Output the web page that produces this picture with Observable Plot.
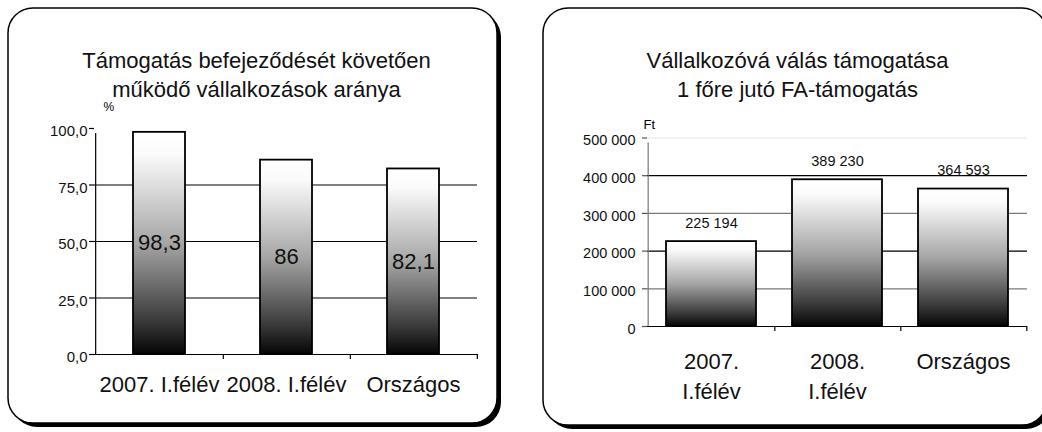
<!DOCTYPE html>
<html><head><meta charset="utf-8">
<script src="https://cdn.jsdelivr.net/npm/d3@7"></script>
<script src="https://cdn.jsdelivr.net/npm/@observablehq/plot@0.6"></script>
<style>
html,body{margin:0;padding:0;background:#fff;}
#wrap{position:relative;width:1042px;height:432px;overflow:hidden;font-family:"Liberation Sans",Arial,sans-serif;}
#wrap > svg{position:absolute;top:0;}
</style></head><body><div id="wrap"></div>
<script>
// ---- Chart 1 data ----
const categories1 = ["2007. I.félév", "2008. I.félév", "Országos"];
const values1 = [98.3, 86, 82.1];
const yTicks1 = [0, 25, 50, 75, 100];
const grid1 = [25, 50, 75];
const title1 = ["Támogatás befejeződését követően", "működő vállalkozások aránya"];
const unit1 = "%";

// ---- Chart 2 data ----
const categories2 = ["2007.\nI.félév", "2008.\nI.félév", "Országos"];
const values2 = [225194, 389230, 364593];
const yTicks2 = [0, 100000, 200000, 300000, 400000, 500000];
const grid2 = [100000, 200000, 300000, 400000, 500000];
const title2 = ["Vállalkozóvá válás támogatása", "1 főre jutó FA-támogatás"];
const unit2 = "Ft";

const data1 = categories1.map((c, i) => ({cat: c, value: values1[i]}));
const data2 = categories2.map((c, i) => ({cat: c, value: values2[i]}));

const FONT = "Liberation Sans, Arial, sans-serif";
const wrap = document.getElementById("wrap");

// ---- backdrop: panels, gradient, titles ----
const bg = d3.create("svg").attr("width", 1042).attr("height", 432).style("left", "0px");
const grad = bg.append("defs").append("linearGradient")
  .attr("id", "barGrad").attr("x1", 0).attr("y1", 0).attr("x2", 0).attr("y2", 1);
[[0, "#ffffff"], [0.1, "#fbfbfb"], [0.5, "#a6a6a6"], [0.85, "#3a3a3a"], [1, "#050505"]]
  .forEach(([o, c]) => grad.append("stop").attr("offset", o).attr("stop-color", c));
const panels = [
  {x: 8, y: 8, w: 489, h: 415, cx: 256.5, title: title1},
  {x: 543, y: 8, w: 504, h: 417, cx: 797.5, title: title2}
];
panels.forEach(p => {
  bg.append("rect").attr("x", p.x + 4).attr("y", p.y + 4).attr("width", p.w).attr("height", p.h)
    .attr("rx", 25).attr("fill", "#000");
  bg.append("rect").attr("x", p.x).attr("y", p.y).attr("width", p.w).attr("height", p.h)
    .attr("rx", 25).attr("fill", "#fff").attr("stroke", "#000").attr("stroke-width", 1.5);
  p.title.forEach((t, i) => bg.append("text").attr("x", p.cx).attr("y", 68 + i * 29)
    .attr("text-anchor", "middle").attr("font-family", FONT).attr("font-size", 22).attr("fill", "#111").text(t));
});
wrap.appendChild(bg.node());

const style = {background: "transparent", fontFamily: FONT, overflow: "visible", color: "#000"};
const fmt1 = d => d3.format(".1f")(d).replace(".", ",");
const fmt2 = d => d3.format(",")(d).replace(/,/g, " ");
const noText = () => "";

// ---- Chart 1 ----
const W1 = 520, ML1 = 94, MR1 = 43;
const step1 = (W1 - ML1 - MR1) / categories1.length;
const plot1 = Plot.plot({
  width: W1, height: 432,
  marginLeft: ML1, marginRight: MR1, marginTop: 128, marginBottom: 78,
  style,
  x: {domain: categories1, paddingInner: 0.593, paddingOuter: 0.2965},
  y: {domain: [0, 100]},
  marks: [
    Plot.ruleY(grid1, {stroke: "#000", strokeWidth: 1.2}),
    Plot.barY(data1, {x: "cat", y: "value", fill: "url(#barGrad)", stroke: "#000", strokeWidth: 1.8}),
    Plot.text(data1, {x: "cat", y: d => d.value / 2, text: d => String(d.value).replace(".", ","), fontSize: 22, fill: "#111"}),
    Plot.ruleY([0], {stroke: "#000", strokeWidth: 1.2}),
    Plot.ruleX(data1, {x: "cat", y1: 0, y2: 0, dx: step1 / 2, insetBottom: -5, strokeWidth: 1.2}),
    Plot.ruleX([categories1[0]], {x: d => d, y1: 0, y2: 100, dx: -step1 / 2, insetBottom: -5, strokeWidth: 1.2}),
    Plot.axisY({ticks: yTicks1, tickSize: 5, tickFormat: noText, label: null, strokeWidth: 1.2}),
    Plot.axisY({ticks: yTicks1, tickSize: 0, tickPadding: 7, tickFormat: fmt1, fontSize: 15, dy: 3, label: null, fill: "#111"}),
    Plot.axisX({tickSize: 0, tickPadding: 22, fontSize: 22, label: null, fill: "#111"}),
    Plot.text([unit1], {frameAnchor: "top-left", dx: 9, dy: -18, textAnchor: "start", lineAnchor: "bottom", fontSize: 12})
  ]
});
plot1.style.left = "0px";
wrap.appendChild(plot1);

// ---- Chart 2 ----
const W2 = 522, ML2 = 127, MR2 = 15;
const step2 = (W2 - ML2 - MR2) / categories2.length;
const plot2 = Plot.plot({
  width: W2, height: 432,
  marginLeft: ML2, marginRight: MR2, marginTop: 137.5, marginBottom: 106,
  style,
  x: {domain: categories2, paddingInner: 0.282, paddingOuter: 0.141},
  y: {domain: [0, 500000]},
  marks: [
    Plot.ruleY(grid2, {stroke: d => d === 500000 ? "#e6e6e6" : (d === 400000 || d === 200000) ? "#000" : "#7a7a7a", strokeWidth: 1.2}),
    Plot.barY(data2, {x: "cat", y: "value", fill: "url(#barGrad)", stroke: "#000", strokeWidth: 1.8}),
    Plot.text(data2, {x: "cat", y: "value", text: d => fmt2(d.value), dy: -14, lineAnchor: "bottom", fontSize: 14.5, fill: "#111"}),
    Plot.ruleY([0], {stroke: "#000", strokeWidth: 1.2}),
    Plot.ruleX(data2, {x: "cat", y1: 0, y2: 0, dx: step2 / 2, insetBottom: -5, strokeWidth: 1.2}),
    Plot.ruleX([categories2[0]], {x: d => d, y1: 0, y2: 500000, dx: -step2 / 2, insetBottom: -5, stroke: "#777", strokeWidth: 1.2}),
    Plot.axisY({ticks: yTicks2, tickSize: 5, tickFormat: noText, label: null, stroke: "#555", strokeWidth: 1.2}),
    Plot.axisY({ticks: yTicks2, tickSize: 0, tickPadding: 12, tickFormat: fmt2, fontSize: 14.5, dy: 2.5, label: null, fill: "#111"}),
    Plot.axisX({tickSize: 0, tickPadding: 21.4, fontSize: 22, lineHeight: 1.36, label: null, fill: "#111"}),
    Plot.text([unit2], {frameAnchor: "top-left", dx: -4, dy: -9.5, textAnchor: "start", lineAnchor: "bottom", fontSize: 13})
  ]
});
plot2.style.left = "520px";
wrap.appendChild(plot2);
</script></body></html>
